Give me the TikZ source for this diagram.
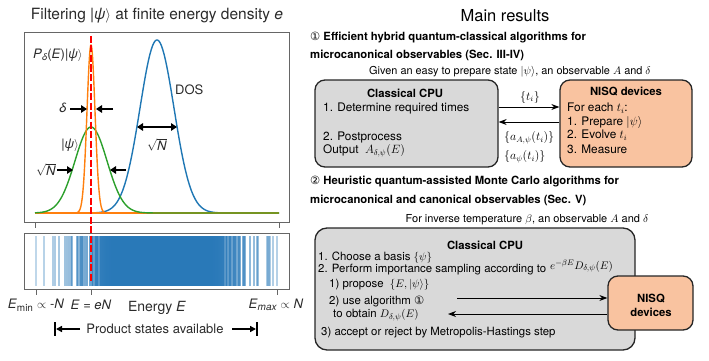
\documentclass[tikz,border=0pt]{standalone}
\usepackage{fontspec}
\setmainfont{TeX Gyre Heros}
\newfontfamily\djv{DejaVu Sans}
\usetikzlibrary{arrows.meta}
\definecolor{mplblue}{HTML}{1F77B4}
\definecolor{barblue}{HTML}{2878B8}
\definecolor{mplorange}{HTML}{FF7F0E}
\definecolor{mplgreen}{HTML}{2CA02C}
\definecolor{cpugray}{HTML}{D9D9D9}
\definecolor{nisqorange}{HTML}{F9C3A0}
\definecolor{framegray}{HTML}{666666}
\definecolor{txt}{HTML}{2A2A2A}
\begin{document}
\begin{tikzpicture}[x=1pt,y=-1pt,
  lbl/.style={font=\fontsize{13}{15}\selectfont, text=txt, inner sep=0},
  fat/.style={line width=2.4pt, -{Triangle[length=6pt,width=7.5pt]}},
  fatboth/.style={line width=2.4pt, {Triangle[length=6pt,width=7.5pt]}-{Triangle[length=6pt,width=7.5pt]}},
  frame/.style={draw=framegray, line width=0.9pt},
  curve/.style={line width=1.4pt},
  cpubox/.style={draw=black!85, line width=1.3pt, fill=cpugray, rounded corners=10pt},
  nisqbox/.style={draw=black!85, line width=1.3pt, fill=nisqorange, rounded corners=10pt},
  head/.style={font=\fontsize{11.3}{13}\selectfont\bfseries, inner sep=0},
  body/.style={font=\fontsize{11.8}{13}\selectfont, inner sep=0, anchor=west},
  bodys/.style={font=\fontsize{11.4}{13}\selectfont, inner sep=0, anchor=west},
  conn/.style={line width=0.9pt, -{Stealth[length=8pt,width=6pt]}}
]
\useasboundingbox (0,0) rectangle (709,361);

%% ---------- left panel ----------
\node[lbl, font=\fontsize{15.5}{17}\selectfont] (title) at (157,16) {Filtering |\textit{ψ}$\rangle$ at finite energy density \textit{e}};
\draw[frame] (24,32) rectangle (289,222);
\draw[frame] (35,222) -- (35,228) (279,222) -- (279,228);

% curves
\draw[mplblue, curve] plot[domain=35:279, samples=240] (\x, {213-173*exp(-((\x-157)/17)*((\x-157)/17)/2)});
\draw[mplorange, curve] (35,213) -- (279,213);
\draw[mplgreen, curve] plot[domain=35:279, samples=240] (\x, {213-86*exp(-((\x-91)/16)*((\x-91)/16)/2)});
\draw[mplorange, curve] plot[domain=77:105, samples=160] (\x, {213-168*exp(-((\x-91)/4)*((\x-91)/4)/2)});

% labels on curves
\node[lbl, anchor=west] (pd) at (33,55) {\textit{P}\raisebox{-2.5pt}{\fontsize{9.5}{10}\selectfont\textit{δ}}(\textit{E})|\textit{ψ}$\rangle$};
\node[lbl] (dl) at (63,108) {\textit{δ}};
\coordinate (d1a) at (70,109); \coordinate (d1b) at (87,109);
\coordinate (d2a) at (113,109); \coordinate (d2b) at (96,109);
\draw[fat] (d1a) -- (d1b);
\draw[fat] (d2a) -- (d2b);
\node[lbl] (psil) at (70,145) {|\textit{ψ}$\rangle$};
\node[lbl] (sqn1) at (46,170) {$\sqrt{\mbox{\textit{N}}}$};
\coordinate (g1a) at (57,170); \coordinate (g1b) at (73,170);
\coordinate (g2a) at (126,170); \coordinate (g2b) at (110,170);
\draw[fat] (g1a) -- (g1b);
\draw[fat] (g2a) -- (g2b);
\node[lbl, anchor=west] (dos) at (175,90) {DOS};
\coordinate (b1) at (137,127); \coordinate (b2) at (177,127);
\draw[fatboth] (b1) -- (b2);
\node[lbl] (sqn2) at (157,145) {$\sqrt{\mbox{\textit{N}}}$};

% barcode strip
\pgfmathsetseed{2718}
\foreach \k in {36,...,277} {
  \pgfmathsetmacro\r{rnd}
  \pgfmathsetmacro\pr{min(1,1.7*exp(-((\k-162)/52)*((\k-162)/52)/2))}
  \pgfmathsetmacro\op{0.22+0.72*min(1,1.5*exp(-((\k-162)/55)*((\k-162)/55)/2))}
  \pgfmathparse{(\r<\pr || \k==36 || \k==277) ? 1 : 0}
  \ifnum\pgfmathresult=1
    \draw[barblue, opacity=\op, line width=1.1pt] (\k,236) -- (\k,286);
  \fi
}
\draw[frame] (24,233) rectangle (289,289);
\draw[frame] (36,289) -- (36,295) (91,289) -- (91,295) (277,289) -- (277,295);

% red dashed line
\coordinate (rtop) at (91,36); \coordinate (rbot) at (91,283);
\draw[red, line width=1.4pt, dash pattern=on 7pt off 2.5pt] (rtop) -- (rbot);

% axis labels
\node[lbl] (emin) at (36,305) {\textit{E}$_{\mbox{\fontsize{10}{11}\selectfont min}}$ $\propto$ -\textit{N}};
\node[lbl] (eeN) at (91,305) {\textit{E} = \textit{eN}};
\node[lbl, font=\fontsize{14}{16}\selectfont] (energy) at (157,308) {Energy \textit{E}};
\node[lbl] (emax) at (276,305) {\textit{E}$_{\mbox{\fontsize{10}{11}\selectfont\itshape max}}$ $\propto$ \textit{N}};
\node[lbl] (prod) at (155,329) {Product states available};
\coordinate (pl1) at (80,329); \coordinate (pl2) at (56,329);
\coordinate (pr1) at (232,329); \coordinate (pr2) at (256,329);
\draw[line width=1.8pt, -{Triangle[length=6pt,width=6pt]}] (pl1) -- (pl2);
\draw[line width=1.8pt, -{Triangle[length=6pt,width=6pt]}] (pr1) -- (pr2);
\draw[line width=1.3pt] (55,322) -- (55,336) (257,322) -- (257,336);

%% ---------- right panel ----------
\node[inner sep=0, font=\fontsize{16.5}{18}\selectfont] (main) at (505,16) {Main results};
\node[head, anchor=west] (s1a) at (310,38) {{\djv\mdseries ①} Efficient hybrid quantum-classical algorithms for};
\node[head, anchor=west] (s1b) at (310,55) {microcanonical observables (Sec. III-IV)};
\node[inner sep=0, font=\fontsize{10.9}{13}\selectfont] (given) at (510,72) {Given an easy to prepare state $|\psi\rangle$, an observable $A$ and $\delta$};

\node[cpubox, minimum width=183pt, minimum height=87pt] (cpu1) at (406.5,123.5) {};
\node[nisqbox, minimum width=132pt, minimum height=87pt] (nisq1) at (626,123.5) {};
\node[head] (cpu1t) at (405,93) {Classical CPU};
\node[body] (c11) at (323,108) {1. Determine required times};
\node[body] (c12) at (323,137) {2. Postprocess};
\node[body] (c13) at (323,151) {Output\ \ $A_{\delta,\psi}(E)$};
\node[head] (nisq1t) at (626,92) {NISQ devices};
\node[body] (n11) at (567,108) {For each $t_i$:};
\node[body] (n12) at (567,122) {1. Prepare $|\psi\rangle$};
\node[body] (n13) at (567,135) {2. Evolve $t_i$};
\node[body] (n14) at (567,149) {3. Measure};

\coordinate (a1) at (0,107); \coordinate (a2) at (0,122);
\draw[conn] (cpu1.east |- a1) -- (nisq1.west |- a1);
\draw[conn] (nisq1.west |- a2) -- (cpu1.east |- a2);
\node[inner sep=0, font=\fontsize{11.8}{13}\selectfont] (ti) at (530,97) {$\{t_i\}$};
\node[body] (aA) at (504,138) {$\{a_{A,\psi}(t_i)\}$};
\node[body] (ap) at (504,157) {$\{a_{\psi}(t_i)\}$};

\node[head, anchor=west] (s2a) at (310,182) {{\djv\mdseries ②} Heuristic quantum-assisted Monte Carlo algorithms for};
\node[head, anchor=west] (s2b) at (310,200) {microcanonical and canonical observables (Sec. V)};
\node[inner sep=0, font=\fontsize{11}{13}\selectfont] (forinv) at (527,220) {For inverse temperature $\beta$, an observable $A$ and $\delta$};

\node[cpubox, rounded corners=12pt, minimum width=320pt, minimum height=122pt] (cpu2) at (475,289) {};
\node[nisqbox, minimum width=85pt, minimum height=54pt] (nisq2) at (650.5,303) {};
\node[head] (cpu2t) at (485,245) {Classical CPU};
\node[bodys] (c21) at (318,258) {1. Choose a basis $\{\psi\}$};
\node[bodys] (c22) at (318,270) {2. Perform importance sampling according to};
\node[bodys] (c22m) at (550,266) {$e^{-\beta E}D_{\delta,\psi}(E)$};
\node[bodys] (c23) at (329,285) {1) propose\ \ $\{E,|\psi\rangle\}$};
\node[bodys] (c24) at (329,302) {2) use algorithm {\djv ①}};
\node[bodys] (c25) at (333,315) {to obtain $D_{\delta,\psi}(E)$};
\node[bodys] (c26) at (321,333) {3) accept or reject by Metropolis-Hastings step};
\node[head, align=center, font=\fontsize{11.3}{14}\selectfont\bfseries] (nisq2t) at (651,305) {NISQ\\devices};
\coordinate (m1) at (457,298); \coordinate (m2) at (448,314);
\draw[conn] (m1) -- (nisq2.west |- m1);
\draw[conn] (nisq2.west |- m2) -- (m2);
\end{tikzpicture}
\end{document}
